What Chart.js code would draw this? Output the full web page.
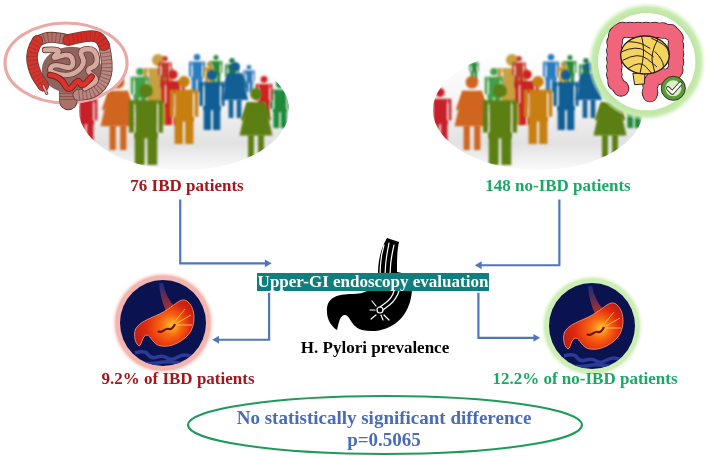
<!DOCTYPE html>
<html><head><meta charset="utf-8">
<style>html,body{margin:0;padding:0;background:#fff}canvas{display:block}</style>
<script src="https://cdn.jsdelivr.net/npm/chart.js@4"></script></head>
<body><canvas id="c" width="709" height="456"></canvas>
<script>
const groups = ['IBD', 'no-IBD'];
const patientCounts = [76, 148];
const prevalencePct = [9.2, 12.2];
const pValue = '0.5065';
const flowIbdIn = [[178,199],[178,264],[266,264]];
const flowNoIbdIn = [[562,199],[562,266],[481,266]];
const flowIbdOut = [[268,294],[268,342],[215,342]];
const flowNoIbdOut = [[480,294],[480,340],[538,340]];
const arrowAngles = [90, -90, -90, 90];
const flows = [flowIbdIn, flowNoIbdIn, flowIbdOut, flowNoIbdOut];

function smooth(c, p){
  c.beginPath(); c.moveTo(p[0][0],p[0][1]);
  for(let i=1;i<p.length-1;i++){
    const mx=(p[i][0]+p[i+1][0])/2,my=(p[i][1]+p[i+1][1])/2;
    c.quadraticCurveTo(p[i][0],p[i][1],mx,my);
  }
  c.lineTo(p[p.length-1][0],p[p.length-1][1]);
}
function tube(c,p,w,col,out,stripe){
  c.lineCap='round';c.lineJoin='round';c.setLineDash([]);
  smooth(c,p);c.strokeStyle=out;c.lineWidth=w+5;c.stroke();
  smooth(c,p);c.strokeStyle=col;c.lineWidth=w;c.stroke();
  if(stripe){c.lineCap='butt';c.setLineDash([3,stripe]);smooth(c,p);c.strokeStyle=out;c.lineWidth=w;c.globalAlpha=.55;c.stroke();c.globalAlpha=1;c.setLineDash([]);c.lineCap='round';}
}
function poly(c,p){c.beginPath();p.forEach((q,i)=>i?c.lineTo(q[0],q[1]):c.moveTo(q[0],q[1]));c.closePath();}

function person(c,x,top,bot,col,woman){
  const h=bot-top,r=h*.085,w=h*.42;
  c.fillStyle=col;
  c.beginPath();c.arc(x,top+r,r,0,7);c.fill();
  const sy=top+2.35*r;
  if(woman){
    poly(c,[[x-w*.3,sy],[x+w*.3,sy],[x+w*.56,top+h*.68],[x-w*.56,top+h*.68]]);c.fill();
    poly(c,[[x-w*.3,sy],[x-w*.52,top+h*.45],[x-w*.42,top+h*.47],[x-w*.15,sy+5]]);c.fill();
    poly(c,[[x+w*.3,sy],[x+w*.52,top+h*.45],[x+w*.42,top+h*.47],[x+w*.15,sy+5]]);c.fill();
    c.fillRect(x-w*.27,top+h*.66,w*.2,h*.34);c.fillRect(x+w*.07,top+h*.66,w*.2,h*.34);
  } else {
    c.fillRect(x-w*.33,sy,w*.66,h*.47);
    c.fillRect(x-w*.5,sy,w*.17,h*.4);c.fillRect(x+w*.33,sy,w*.17,h*.4);
    c.fillStyle='#eee';c.fillRect(x-w*.35,sy+4,1.3,h*.36);c.fillRect(x+w*.33,sy+4,1.3,h*.36);
    c.fillStyle=col;
    c.fillRect(x-w*.33,sy+h*.4,w*.29,bot-sy-h*.4);c.fillRect(x+w*.04,sy+h*.4,w*.29,bot-sy-h*.4);
  }
}
const crowd = [
 [120,58,80,'#2a8a3a',0],[158,54,125,'#c9a040',0],[165,56,88,'#c0392b',0],
 [197,54,92,'#2a7cc0',0],[216,55,85,'#2c8a35',0],[232,58,90,'#1f7a3a',0],[249,65,92,'#2e79b8',0],
 [280,80,128,'#1f8a3a',0],[264,76,116,'#d42020',0],[140,68,112,'#43a047',0],[173,70,125,'#cc2222',0],
 [209,62,88,'#c98a20',0],[86,88,142,'#c8202a',0],[118,76,150,'#d0651f',1],[184,76,144,'#c77f10',0],
 [212,70,130,'#0f5f96',0],[235,62,118,'#125f95',1],[146,84,165,'#5b7f12',0],[256,88,158,'#5b7f12',1]
];
function crowdEllipse(c,dx){
  c.save();c.translate(dx,0);
  c.beginPath();c.ellipse(184,110,105,60,0,0,7);c.clip();
  const g=c.createLinearGradient(0,50,0,170);
  g.addColorStop(0,'#ffffff');g.addColorStop(.45,'#f4f4f4');g.addColorStop(.78,'#e2e2e2');g.addColorStop(1,'#fafafa');
  c.fillStyle=g;c.fillRect(70,40,230,140);
  c.filter='blur(0.9px)';
  crowd.forEach(p=>person(c,...p));
  c.restore();
}
function iconIbd(c){
  c.save();
  c.beginPath();c.ellipse(66,63,61,40,0,0,7);c.fillStyle='#fff';c.fill();
  c.strokeStyle='#e9a9a6';c.lineWidth=3.2;c.stroke();
  c.translate(0,15);c.scale(1/3,1/3);
  c.filter='blur(0.6px)';
  const br='#6e3a36';
  tube(c,[[205,225],[205,258]],50,'#a8716a',br,6);
  c.beginPath();c.ellipse(215,165,90,70,0,0,7);c.fillStyle='#8f645c';c.fill();
  tube(c,[[312,90],[325,150],[312,205],[278,235],[235,240]],30,'#b98880',br,8);
  tube(c,[[205,75],[155,62],[112,78]],28,'#b0746c',br,9);
  tube(c,[[205,75],[250,64],[295,62],[312,90]],30,'#d62a22',br,10);
  tube(c,[[112,78],[92,110],[102,170],[130,212]],30,'#d8342c',br,9);
  tube(c,[[130,212],[140,235]],5,'#e8a0a0',br);
  tube(c,[[135,105],[190,100],[150,135],[215,112],[222,165],[160,145],[145,172],[215,185],[258,145],[235,105],[285,100],[295,150],[255,165],[298,195],[255,220]],14,'#d3aaa0',br);
  tube(c,[[150,180],[182,185],[205,232],[235,190],[245,218],[275,185]],14,'#d8342c','#7a1c1c');
  c.restore();
}
function iconOk(c){
  c.save();
  c.translate(595,10);c.scale(1/3,1/3);
  const g=c.createRadialGradient(155,155,140,155,155,178);
  g.addColorStop(0,'#b7e39a');g.addColorStop(.6,'#c9ecb2');g.addColorStop(1,'rgba(220,245,205,0)');
  c.beginPath();c.arc(155,155,178,0,7);c.fillStyle=g;c.fill();
  c.beginPath();c.arc(155,155,146,0,7);c.fillStyle='#fff';c.fill();
  const colon=[[78,235],[58,222],[58,170],[58,60],[110,60],[240,60],[243,110],[243,195],[215,198],[172,204],[165,225],[165,255]];
  const dark='#2a1a1a',pink='#f0647c';
  c.lineCap='round';c.lineJoin='round';
  smooth(c,colon);c.strokeStyle=dark;c.lineWidth=50;c.setLineDash([0,24]);c.stroke();
  c.setLineDash([]);smooth(c,colon);c.lineWidth=44;c.stroke();
  smooth(c,colon);c.strokeStyle=pink;c.lineWidth=45;c.setLineDash([0,24]);c.stroke();
  c.setLineDash([]);smooth(c,colon);c.lineWidth=40;c.stroke();
  poly(c,[[115,190],[150,190],[148,222],[120,224]]);c.fillStyle='#f4d35e';c.fill();c.strokeStyle=dark;c.lineWidth=3;c.stroke();
  c.beginPath();c.ellipse(150,135,73,57,0,0,7);c.fillStyle='#f4d35e';c.fill();c.strokeStyle=dark;c.lineWidth=4;c.stroke();
  c.save();c.clip();c.lineWidth=3;
  [[[80,125],[125,105],[175,140]],[[85,150],[130,125],[185,170]],[[100,175],[135,150],[170,190]],[[140,80],[150,120],[135,190]],[[190,85],[165,130],[180,190]],[[170,85],[215,105],[222,135]],[[180,125],[205,150],[205,185]],[[95,95],[130,95],[165,115]]].forEach(p=>{smooth(c,p);c.stroke();});
  c.restore();
  c.beginPath();c.arc(235,235,36,0,7);c.fillStyle='#5d9a3c';c.fill();c.strokeStyle='#2a3a1a';c.lineWidth=3;c.stroke();
  c.beginPath();c.arc(235,235,24,0,7);c.fillStyle='#dcefc8';c.fill();
  c.beginPath();c.moveTo(219,235);c.lineTo(232,248);c.lineTo(256,221);c.strokeStyle='#26331a';c.lineWidth=13;c.stroke();
  c.strokeStyle='#fff';c.lineWidth=8;c.stroke();
  c.restore();
}
function stomachCircle(c,cx,cy,halo){
  c.save();c.translate(cx,cy);
  const g=c.createRadialGradient(0,0,42,0,0,52);
  g.addColorStop(0,halo);g.addColorStop(.5,halo);g.addColorStop(1,'rgba(255,255,255,0)');
  c.beginPath();c.arc(0,0,52,0,7);c.fillStyle=g;c.fill();
  c.beginPath();c.arc(0,0,43,0,7);c.fillStyle='#0a1250';c.fill();c.clip();
  c.filter='blur(0.5px)';
  const e=c.createLinearGradient(0,-40,0,-10);e.addColorStop(0,'#1a2a80');e.addColorStop(1,'#c0301c');
  c.beginPath();c.moveTo(-4,-40);c.quadraticCurveTo(-3,-25,3,-12);c.lineTo(12,-16);c.quadraticCurveTo(3,-25,0,-40);c.closePath();c.fillStyle=e;c.fill();
  const s=c.createRadialGradient(10,2,1,2,4,36);
  s.addColorStop(0,'#ffc030');s.addColorStop(.25,'#fb6a10');s.addColorStop(.6,'#e02a10');s.addColorStop(1,'#b01a18');
  c.beginPath();c.moveTo(5,-14);
  c.bezierCurveTo(12,-18,18,-26,24,-22);c.bezierCurveTo(32,-16,33,-2,28,8);
  c.bezierCurveTo(22,18,8,25,-2,23);c.bezierCurveTo(-10,22,-12,13,-16,12);
  c.bezierCurveTo(-21,12,-21,22,-24,23);c.bezierCurveTo(-29,20,-30,8,-26,4);
  c.bezierCurveTo(-20,-4,-6,-6,5,-14);c.closePath();c.fillStyle=s;c.fill();
  c.strokeStyle='#ff9c70';c.lineWidth=.8;c.stroke();
  c.beginPath();c.moveTo(-5,8);c.bezierCurveTo(-1,12,2,4,6,6);c.bezierCurveTo(9,7,11,3,12,1);c.strokeStyle='#6a1408';c.lineWidth=2.2;c.stroke();
  c.strokeStyle='#ffd060';c.lineWidth=.8;
  [[[14,0],[28,-8]],[[14,2],[29,2]],[[13,-3],[22,-14]]].forEach(l=>{c.beginPath();c.moveTo(...l[0]);c.lineTo(...l[1]);c.stroke();});
  c.strokeStyle='#2c3a9a';c.lineWidth=3.5;
  smooth(c,[[-28,30],[-18,27],[-12,36],[0,32],[8,38],[20,31],[30,34]]);c.stroke();
  smooth(c,[[-24,40],[-10,41],[4,38],[22,41]]);c.stroke();
  c.restore();
}
function endoscopeIcon(c){
  c.save();c.fillStyle='#000';
  c.beginPath();c.moveTo(387,238);c.bezierCurveTo(380,250,378,262,378,275);c.lineTo(377,280);
  c.bezierCurveTo(372,290,365,294,352,294);c.bezierCurveTo(338,294,326,297,327,312);
  c.bezierCurveTo(327,320,332,327,337,330);c.bezierCurveTo(339,322,340,315,345,315);
  c.bezierCurveTo(351,316,350,326,362,330);c.bezierCurveTo(385,335,410,322,412,290);
  c.lineTo(412,275);c.lineTo(397,272);c.bezierCurveTo(397,262,397,250,399,242);c.closePath();c.fill();
  c.strokeStyle='#fff';c.lineWidth=1.2;c.lineCap='round';
  [[[384,245],[381,255],[380,275]],[[389,243],[386,258],[385,275]],[[394,245],[391,258],[390,275]]].forEach(p=>{smooth(c,p);c.stroke();});
  [[[399,291],[396,300],[383,310]],[[394,291],[392,298],[380,307]]].forEach(p=>{smooth(c,p);c.stroke();});
  c.beginPath();c.arc(380,310,3,0,7);c.stroke();
  [[[376,306],[372,301]],[[375,310],[370,310]],[[376,315],[371,319]],[[384,315],[389,320]],[[381,315],[383,320]]].forEach(l=>{c.beginPath();c.moveTo(...l[0]);c.lineTo(...l[1]);c.stroke();});
  c.restore();
}
function label(c,t,x,y,col,size){
  c.font='bold '+size+'px "Liberation Serif"';c.fillStyle=col;c.textAlign='center';c.textBaseline='middle';c.fillText(t,x,y);
}
const art = {
  id:'art',
  beforeDatasetsDraw(ch){
    const c=ch.ctx;c.save();
    crowdEllipse(c,0);crowdEllipse(c,354);
    iconIbd(c);iconOk(c);
    endoscopeIcon(c);
    stomachCircle(c,163,323,'#f3b5ad');
    stomachCircle(c,592,326,'#cdeeb5');
    c.fillStyle='#0e7f7c';c.fillRect(257,273,232,18);
    c.beginPath();c.ellipse(385,425,197,29,0,0,7);c.strokeStyle='#1f9a5a';c.lineWidth=2.2;c.stroke();
    c.restore();
  },
  afterDraw(ch){
    const c=ch.ctx;c.save();
    const red='#a3161d',green='#1ba866',blue='#4a6cb5';
    label(c,patientCounts[0]+' '+groups[0]+' patients',187,187,red,17);
    label(c,patientCounts[1]+' '+groups[1]+' patients',558,187,green,17);
    label(c,'Upper-GI endoscopy evaluation',373,283,'#fff',17);
    label(c,'H. Pylori prevalence',375,349,'#000',17);
    label(c,prevalencePct[0].toFixed(1)+'% of '+groups[0]+' patients',178,380,red,17);
    label(c,prevalencePct[1].toFixed(1)+'% of '+groups[1]+' patients',585,380,green,17);
    label(c,'No statistically significant difference',384,419,blue,19);
    label(c,'p='+pValue,384,441,blue,19);
    c.restore();
  }
};
new Chart(document.getElementById('c'),{
  type:'scatter',
  data:{datasets:flows.map((f,i)=>({
    data:f.map(p=>({x:p[0],y:p[1]})),showLine:true,borderColor:'#4f77bb',backgroundColor:'#4f77bb',borderWidth:2.2,
    tension:0,pointRadius:[0,0,4.5],pointStyle:'triangle',pointRotation:arrowAngles[i],pointBorderWidth:0,clip:false
  }))},
  options:{responsive:false,animation:false,devicePixelRatio:1,
    layout:{padding:0},
    plugins:{legend:{display:false},tooltip:{enabled:false}},
    scales:{x:{type:'linear',display:false,min:0,max:709},y:{type:'linear',display:false,min:0,max:456,reverse:true}}
  },
  plugins:[art]
});
</script></body></html>
